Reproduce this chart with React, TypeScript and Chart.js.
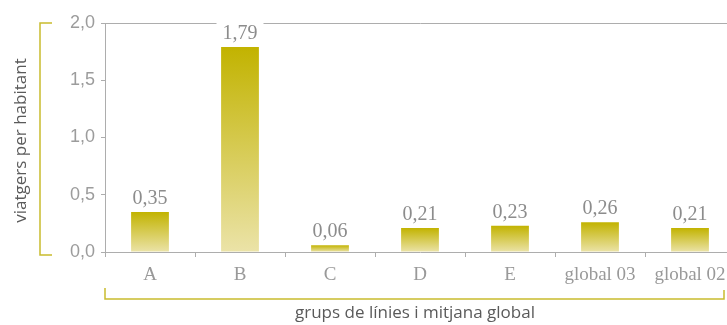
import React, { useEffect, useRef } from "react";
import { Chart, registerables } from "chart.js";
Chart.register(...registerables);

const categories = ["A", "B", "C", "D", "E", "global 03", "global 02"];
const values = [0.35, 1.79, 0.06, 0.21, 0.23, 0.26, 0.21];
const yTickValues = [0, 0.5, 1.0, 1.5, 2.0];
const yTitle = "viatgers per habitant";
const xTitle = "grups de línies i mitjana global";

const fmt = (v: number, d: number) => v.toFixed(d).replace(".", ",");

const BRACKET = "#c9bc2e";
const AXIS = "#adadad";

export default function App() {
  const ref = useRef<HTMLCanvasElement | null>(null);
  useEffect(() => {
    if (!ref.current) return;
    const deco = {
      id: "deco",
      afterDatasetsDraw(chart: any) {
        const ctx = chart.ctx;
        const meta = chart.getDatasetMeta(0);
        ctx.save();
        ctx.font = "20px 'Liberation Serif', serif";
        ctx.textAlign = "center";
        ctx.textBaseline = "alphabetic";
        meta.data.forEach((el: any, i: number) => {
          const t = fmt(values[i], 2);
          const w = ctx.measureText(t).width;
          const by = el.y - 8;
          ctx.fillStyle = "#ffffff";
          ctx.fillRect(el.x - w / 2 - 6, by - 17, w + 12, 22);
          ctx.fillStyle = "#8c8c8c";
          ctx.fillText(t, el.x, by);
        });
        ctx.restore();
      },
      afterDraw(chart: any) {
        const ctx = chart.ctx;
        const a = chart.chartArea;
        ctx.save();
        // y bracket
        ctx.strokeStyle = BRACKET;
        ctx.lineWidth = 1.5;
        ctx.beginPath();
        ctx.moveTo(52, a.top);
        ctx.lineTo(40, a.top);
        ctx.lineTo(40, a.bottom + 3);
        ctx.lineTo(52, a.bottom + 3);
        ctx.stroke();
        // x bracket
        ctx.beginPath();
        ctx.moveTo(a.left, a.bottom + 36);
        ctx.lineTo(a.left, a.bottom + 47);
        ctx.lineTo(724, a.bottom + 47);
        ctx.lineTo(724, a.bottom + 38);
        ctx.stroke();
        // titles
        ctx.fillStyle = "#5a5a5a";
        ctx.font = "17px 'Open Sans', sans-serif";
        ctx.textAlign = "center";
        ctx.textBaseline = "middle";
        ctx.fillText(xTitle, 415, a.bottom + 61);
        ctx.translate(21, (a.top + a.bottom) / 2 + 3);
        ctx.rotate(-Math.PI / 2);
        ctx.fillText(yTitle, 0, 0);
        ctx.restore();
      },
    };
    const chart = new Chart(ref.current, {
      type: "bar",
      data: {
        labels: categories,
        datasets: [
          {
            data: values,
            barPercentage: 0.42,
            categoryPercentage: 1,
            backgroundColor: (c: any) => {
              const chart = c.chart;
              const { chartArea, scales } = chart;
              if (!chartArea || c.type !== "data") return "#cfc24a";
              const v = values[c.dataIndex];
              const top = scales.y.getPixelForValue(v);
              const bot = scales.y.getPixelForValue(0);
              const g = chart.ctx.createLinearGradient(0, top, 0, bot);
              g.addColorStop(0, "#c2b300");
              g.addColorStop(1, "#ebe3a8");
              return g;
            },
          },
        ],
      },
      options: {
        responsive: false,
        animation: false,
        devicePixelRatio: 1,
        layout: { padding: { top: 23, left: 0, right: 0, bottom: 0 } },
        plugins: { legend: { display: false }, tooltip: { enabled: false } },
        scales: {
          x: {
            offset: true,
            grid: {
              offset: true,
              color: "rgba(0,0,0,0)",
              tickColor: AXIS,
              tickLength: 5,
              drawTicks: true,
            },
            border: { color: AXIS, width: 1 },
            ticks: {
              color: "#999999",
              font: { family: "'Liberation Serif', serif", size: 19 },
              padding: 7,
              maxRotation: 0,
              autoSkip: false,
            },
            afterFit: (s: any) => {
              s.height = 73;
            },
          },
          y: {
            min: 0,
            max: 2,
            afterBuildTicks: (s: any) => {
              s.ticks = yTickValues.map((v) => ({ value: v }));
            },
            grid: {
              color: (c: any) => (c.tick && c.tick.value === 2 ? AXIS : "rgba(0,0,0,0)"),
              tickColor: AXIS,
              tickLength: 4,
              drawTicks: true,
            },
            border: { color: AXIS, width: 1 },
            ticks: {
              color: "#9c9c9c",
              font: { family: "'Liberation Sans', sans-serif", size: 18 },
              padding: 6,
              callback: (v: any) => fmt(Number(v), 1),
            },
            afterFit: (s: any) => {
              s.width = 105;
            },
          },
        },
      },
      plugins: [deco],
    });
    return () => chart.destroy();
  }, []);
  return (
    <div
      style={{
        position: "fixed",
        left: 0,
        top: 0,
        width: 727,
        height: 325,
        overflow: "hidden",
        background: "#fff",
      }}
    >
      <canvas ref={ref} width={735} height={325} style={{ display: "block", width: 735, height: 325 }} />
    </div>
  );
}
